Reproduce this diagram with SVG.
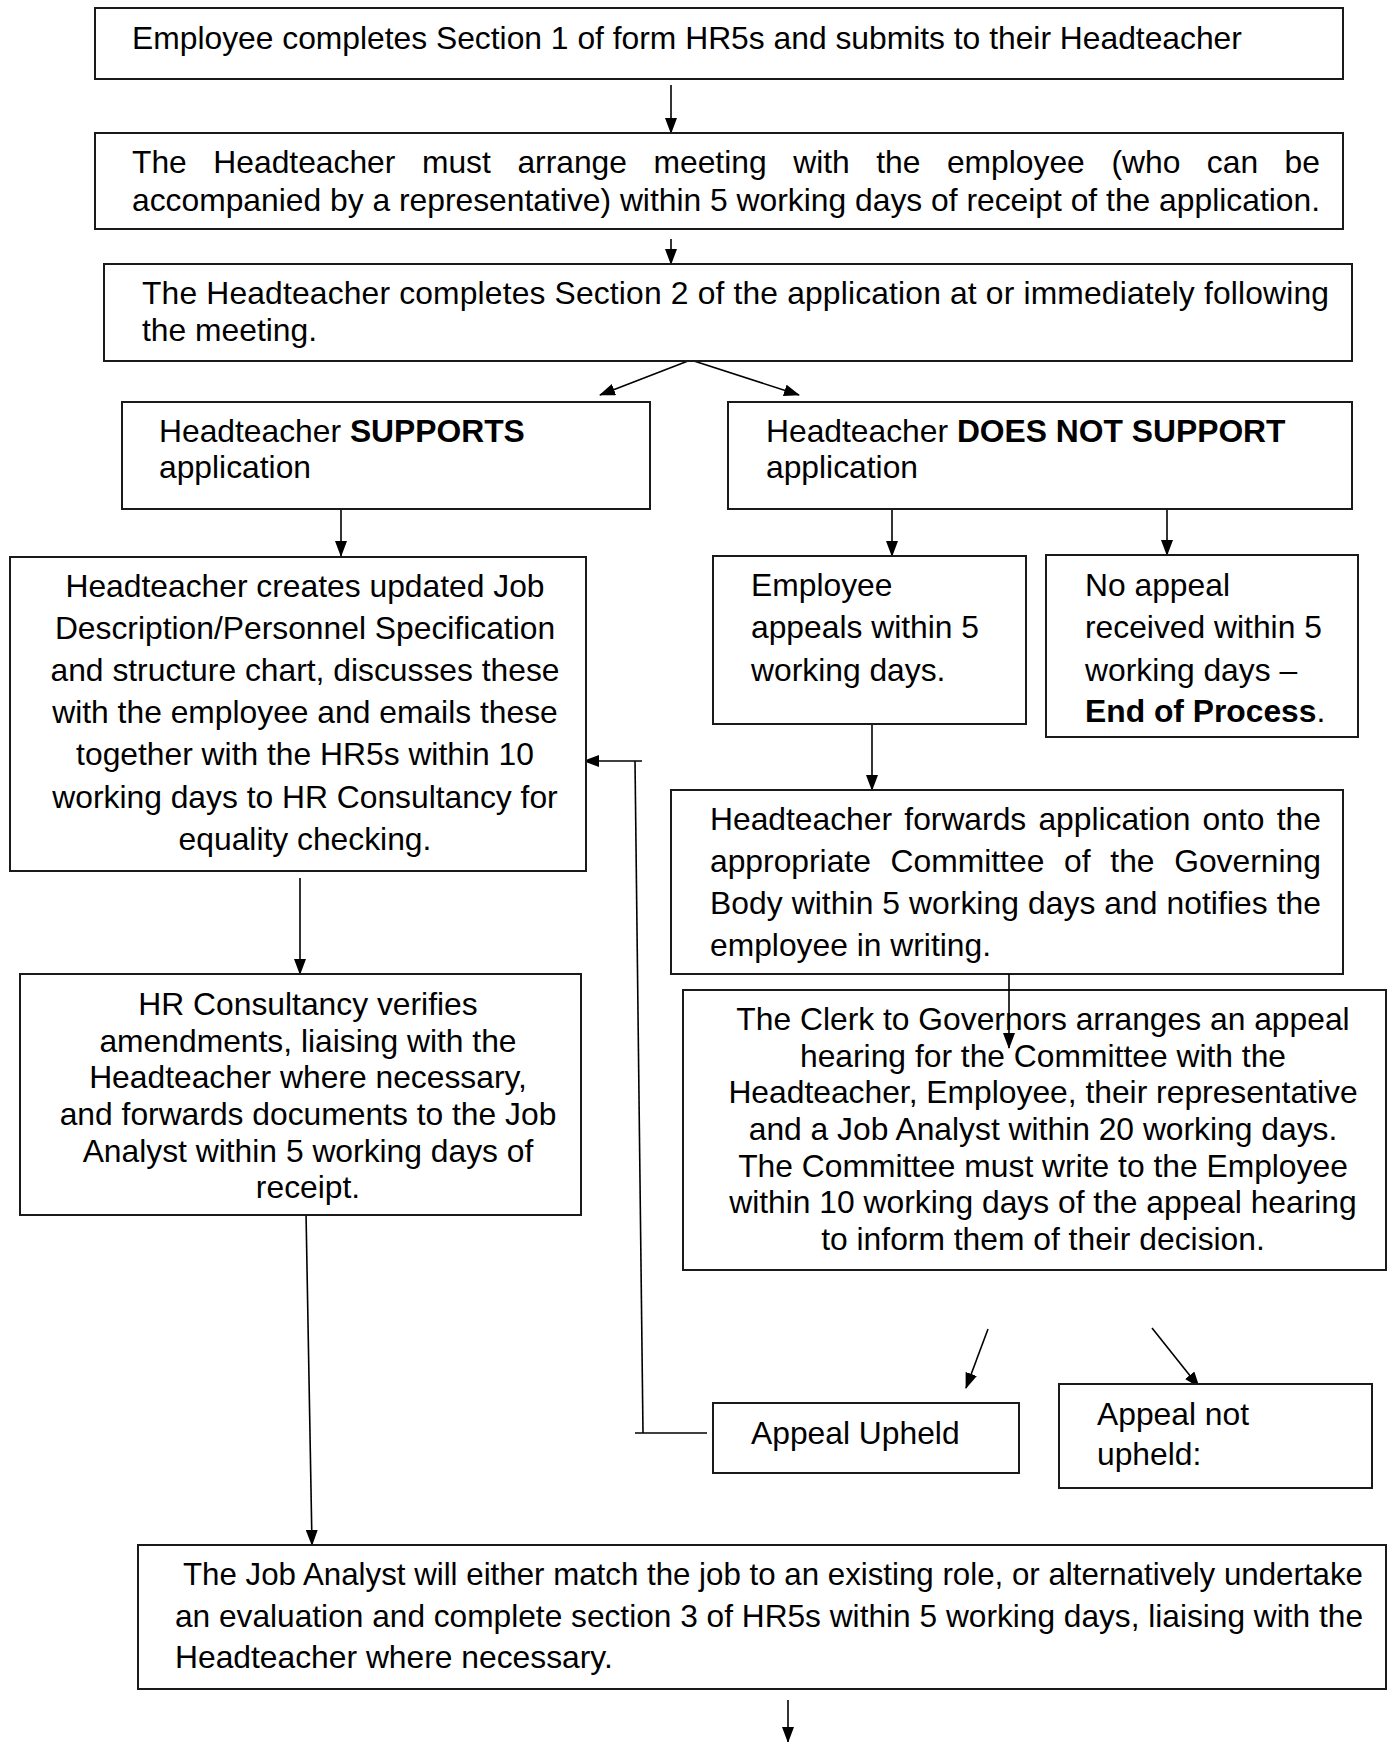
<svg xmlns="http://www.w3.org/2000/svg" width="1391" height="1742" viewBox="0 0 1391 1742">
<style>
rect.box{fill:#fff;stroke:#1a1a1a;stroke-width:2}
text{font-family:"Liberation Sans",Arial,sans-serif;font-size:31.8px;fill:#000}
.c{text-anchor:middle}
.b{font-weight:bold}
.ln{stroke:#000;stroke-width:1.6;fill:none}
.ar{marker-end:url(#ah)}
</style>
<defs>
<marker id="ah" markerUnits="userSpaceOnUse" markerWidth="16" markerHeight="12" refX="15" refY="6" orient="auto">
<path d="M0,0 L16,6 L0,12 z" fill="#000"/>
</marker>
</defs>
<rect width="1391" height="1742" fill="#fff"/>

<g id="connectors">
<line class="ln ar" x1="671" y1="85" x2="671" y2="133"/>
<line class="ln ar" x1="671" y1="239" x2="671" y2="264"/>
<line class="ln ar" x1="688" y1="361" x2="600" y2="395"/>
<line class="ln ar" x1="694" y1="361" x2="799" y2="395"/>
<line class="ln ar" x1="341" y1="509" x2="341" y2="556"/>
<line class="ln ar" x1="892" y1="509" x2="892" y2="556"/>
<line class="ln ar" x1="1167" y1="509" x2="1167" y2="555"/>
<line class="ln ar" x1="872" y1="724" x2="872" y2="790"/>
<line class="ln ar" x1="300" y1="878" x2="300" y2="974"/>
<line class="ln ar" x1="306" y1="1212" x2="312" y2="1545"/>
<line class="ln" x1="635" y1="1433" x2="707" y2="1433"/>
<line class="ln" x1="643" y1="1433" x2="635" y2="761"/>
<line class="ln ar" x1="642" y1="761" x2="584" y2="761"/>
<line class="ln ar" x1="988" y1="1329" x2="966" y2="1388"/>
<line class="ln ar" x1="1152" y1="1328" x2="1199" y2="1387"/>
<line class="ln ar" x1="788" y1="1700" x2="788" y2="1742"/>
</g>

<g id="n1">
<rect class="box" x="95" y="8" width="1248" height="71"/>
<text x="132" y="49">Employee completes Section 1 of form HR5s and submits to their Headteacher</text>
</g>

<g id="n2">
<rect class="box" x="95" y="133" width="1248" height="96"/>
<text y="173"><tspan x="132">The</tspan><tspan x="213.3">Headteacher</tspan><tspan x="421.9">must</tspan><tspan x="517.4">arrange</tspan><tspan x="653.5">meeting</tspan><tspan x="793.2">with</tspan><tspan x="876.2">the</tspan><tspan x="946.9">employee</tspan><tspan x="1111.4">(who</tspan><tspan x="1206.8">can</tspan><tspan x="1284.6">be</tspan></text>
<text x="132" y="211" textLength="1188" lengthAdjust="spacing">accompanied by a representative) within 5 working days of receipt of the application.</text>
</g>

<g id="n3">
<rect class="box" x="104" y="264" width="1248" height="97"/>
<text x="142" y="304" textLength="1187" lengthAdjust="spacing">The Headteacher completes Section 2 of the application at or immediately following</text>
<text x="142" y="341">the meeting.</text>
</g>

<g id="n4">
<rect class="box" x="122" y="402" width="528" height="107"/>
<text x="159" y="442">Headteacher <tspan class="b">SUPPORTS</tspan></text>
<text x="159" y="478">application</text>
</g>

<g id="n5">
<rect class="box" x="728" y="402" width="624" height="107"/>
<text x="766" y="442">Headteacher <tspan class="b">DOES NOT SUPPORT</tspan></text>
<text x="766" y="478">application</text>
</g>

<g id="n6">
<rect class="box" x="10" y="557" width="576" height="314"/>
<text class="c" x="305" y="597">Headteacher creates updated Job</text>
<text class="c" x="305" y="639">Description/Personnel Specification</text>
<text class="c" x="305" y="681">and structure chart, discusses these</text>
<text class="c" x="305" y="723">with the employee and emails these</text>
<text class="c" x="305" y="765">together with the HR5s within 10</text>
<text class="c" x="305" y="808">working days to HR Consultancy for</text>
<text class="c" x="305" y="850">equality checking.</text>
</g>

<g id="n7">
<rect class="box" x="713" y="556" width="313" height="168"/>
<text x="751" y="596">Employee</text>
<text x="751" y="638">appeals within 5</text>
<text x="751" y="681">working days.</text>
</g>

<g id="n8">
<rect class="box" x="1046" y="555" width="312" height="182"/>
<text x="1085" y="596">No appeal</text>
<text x="1085" y="638">received within 5</text>
<text x="1085" y="681">working days –</text>
<text x="1085" y="722"><tspan class="b">End of Process</tspan>.</text>
</g>

<g id="n9">
<rect class="box" x="671" y="790" width="672" height="184"/>
<text y="830"><tspan x="710">Headteacher</tspan><tspan x="904.3">forwards</tspan><tspan x="1038.4">application</tspan><tspan x="1202.6">onto</tspan><tspan x="1276.7">the</tspan></text>
<text y="872"><tspan x="710">appropriate</tspan><tspan x="890.6">Committee</tspan><tspan x="1064">of</tspan><tspan x="1110.3">the</tspan><tspan x="1174.2">Governing</tspan></text>
<text x="710" y="914" textLength="611" lengthAdjust="spacing">Body within 5 working days and notifies the</text>
<text x="710" y="956">employee in writing.</text>
</g>

<g id="n10">
<rect class="box" x="20" y="974" width="561" height="241"/>
<text class="c" x="308" y="1015">HR Consultancy verifies</text>
<text class="c" x="308" y="1052">amendments, liaising with the</text>
<text class="c" x="308" y="1088">Headteacher where necessary,</text>
<text class="c" x="308" y="1125">and forwards documents to the Job</text>
<text class="c" x="308" y="1162">Analyst within 5 working days of</text>
<text class="c" x="308" y="1198">receipt.</text>
</g>

<g id="n11">
<rect class="box" x="683" y="990" width="703" height="280"/>
<text class="c" x="1043" y="1030">The Clerk to Governors arranges an appeal</text>
<text class="c" x="1043" y="1067">hearing for the Committee with the</text>
<text class="c" x="1043" y="1103">Headteacher, Employee, their representative</text>
<text class="c" x="1043" y="1140">and a Job Analyst within 20 working days.</text>
<text class="c" x="1043" y="1177">The Committee must write to the Employee</text>
<text class="c" x="1043" y="1213">within 10 working days of the appeal hearing</text>
<text class="c" x="1043" y="1250">to inform them of their decision.</text>
</g>
<line class="ln ar" x1="1009" y1="974" x2="1009" y2="1048"/>

<g id="n12">
<rect class="box" x="713" y="1403" width="306" height="70"/>
<text x="751" y="1444">Appeal Upheld</text>
</g>

<g id="n13">
<rect class="box" x="1059" y="1384" width="313" height="104"/>
<text x="1097" y="1425">Appeal not</text>
<text x="1097" y="1465">upheld:</text>
</g>

<g id="n14">
<rect class="box" x="138" y="1545" width="1248" height="144"/>
<text x="183" y="1585" textLength="1180" lengthAdjust="spacingAndGlyphs">The Job Analyst will either match the job to an existing role, or alternatively undertake</text>
<text x="175" y="1627" textLength="1188" lengthAdjust="spacingAndGlyphs">an evaluation and complete section 3 of HR5s within 5 working days, liaising with the</text>
<text x="175" y="1668">Headteacher where necessary.</text>
</g>
</svg>
